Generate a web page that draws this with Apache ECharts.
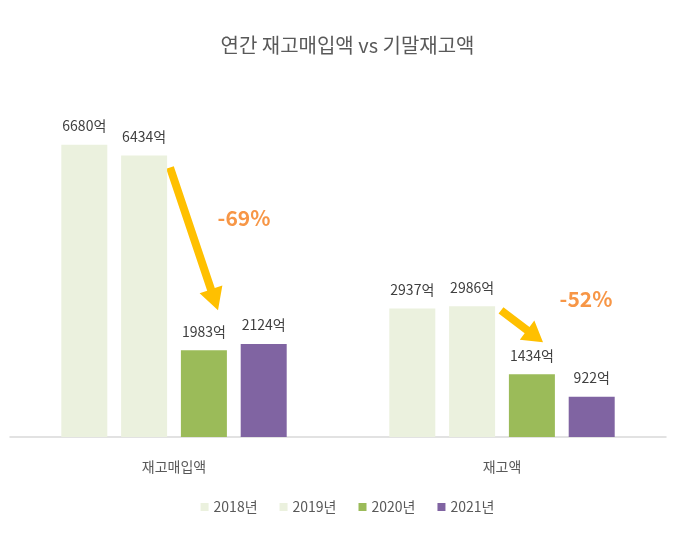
<!DOCTYPE html>
<html>
<head>
<meta charset="utf-8">
<script src="https://cdn.jsdelivr.net/npm/echarts@6/dist/echarts.min.js"></script>
<style>
  html, body { margin: 0; padding: 0; background: #fff; }
  #chart { width: 695px; height: 536px; }
</style>
</head>
<body>
<div id="chart"></div>
<script>
const categories = ['재고매입액', '재고액']
const years = ['2018년', '2019년', '2020년', '2021년']
const values2018 = [6680, 2937]
const values2019 = [6434, 2986]
const values2020 = [1983, 1434]
const values2021 = [2124, 922]
const changeLabels = ['-69%', '-52%']

const colors = ['#EBF1DE', '#EBF1DE', '#9BBB59', '#8064A2']
const font = '"Noto Sans CJK KR", "Noto Sans", sans-serif'
const seriesData = [values2018, values2019, values2020, values2021]

const chart = echarts.init(document.getElementById('chart'))

const option = {
  animation: false,
  textStyle: { fontFamily: font },
  title: {
    text: '연간 재고매입액 vs 기말재고액',
    left: 'center',
    top: 30,
    textStyle: { fontSize: 20, fontWeight: 'normal', color: '#595959', fontFamily: font }
  },
  legend: {
    bottom: 17,
    left: 'center',
    itemWidth: 8,
    itemHeight: 8,
    itemGap: 22,
    icon: 'rect',
    textStyle: { fontSize: 14, color: '#595959', fontFamily: font },
    data: years
  },
  grid: { left: 10, right: 29, top: 87, bottom: 99 },
  xAxis: {
    type: 'category',
    data: categories,
    axisLine: { lineStyle: { color: '#D9D9D9', width: 1.5 } },
    axisTick: { show: false },
    axisLabel: { fontSize: 14, color: '#595959', margin: 23, fontFamily: font }
  },
  yAxis: {
    type: 'value',
    min: 0,
    max: 8000,
    show: false,
    splitLine: { show: false }
  },
  series: years.map((name, i) => ({
    name,
    type: 'bar',
    data: seriesData[i],
    barWidth: 46,
    barGap: '30%',
    itemStyle: { color: colors[i] },
    label: {
      show: true,
      position: 'top',
      distance: 12,
      fontSize: 14,
      color: '#404040',
      fontFamily: font,
      formatter: p => p.value + '억'
    }
  }))
}

chart.setOption(option)

// arrow polygon from start to tip
function arrowPoints(x1, y1, x2, y2, shaft, head, headLen) {
  const dx = x2 - x1, dy = y2 - y1
  const len = Math.sqrt(dx * dx + dy * dy)
  const ux = dx / len, uy = dy / len
  const nx = -uy, ny = ux
  const bx = x2 - ux * headLen, by = y2 - uy * headLen
  return [
    [x1 + nx * shaft / 2, y1 + ny * shaft / 2],
    [bx + nx * shaft / 2, by + ny * shaft / 2],
    [bx + nx * head / 2, by + ny * head / 2],
    [x2, y2],
    [bx - nx * head / 2, by - ny * head / 2],
    [bx - nx * shaft / 2, by - ny * shaft / 2],
    [x1 - nx * shaft / 2, y1 - ny * shaft / 2]
  ]
}

const px = (c, v) => chart.convertToPixel({ gridIndex: 0 }, [c, v])

// arrows: from 2019 bar top-right down to above 2020 bar
const a0s = px(0, values2019[0])
const a0e = px(0, values2020[0])
const a1s = px(1, values2019[1])
const a1e = px(1, values2020[1])

chart.setOption({
  graphic: [
    {
      type: 'polygon',
      shape: { points: arrowPoints(a0s[0] - 4, a0s[1] + 12, a0e[0] + 44, a0e[1] - 40, 8, 24, 22) },
      style: { fill: '#FFC000' }
    },
    {
      type: 'polygon',
      shape: { points: arrowPoints(a1s[0] - 1, a1s[1] + 4, a1e[0] + 41, a1e[1] - 32, 8, 24, 20) },
      style: { fill: '#FFC000' }
    },
    {
      type: 'text',
      x: a0s[0] + 70,
      y: px(0, 5000)[1],
      style: {
        text: changeLabels[0], fill: '#F79646', font: 'bold 21px ' + font,
        align: 'center', verticalAlign: 'middle'
      }
    },
    {
      type: 'text',
      x: a1s[0] + 84,
      y: px(1, 3150)[1],
      style: {
        text: changeLabels[1], fill: '#F79646', font: 'bold 21px ' + font,
        align: 'center', verticalAlign: 'middle'
      }
    }
  ]
})
</script>
</body>
</html>
